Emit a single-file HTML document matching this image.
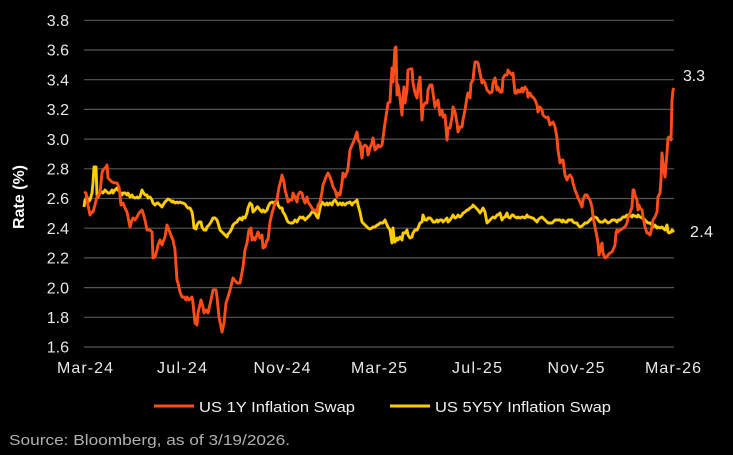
<!DOCTYPE html>
<html><head><meta charset="utf-8"><style>
html,body{margin:0;padding:0;background:#000;}
svg{display:block;}
text{font-family:"Liberation Sans",Arial,sans-serif;}
</style></head><body>
<svg width="733" height="455" viewBox="0 0 733 455" xmlns="http://www.w3.org/2000/svg">
<rect width="733" height="455" fill="#000"/>
<g stroke="#555" stroke-width="1.2">
<line x1="84" x2="674" y1="20.3" y2="20.3"/>
<line x1="84" x2="674" y1="50" y2="50"/>
<line x1="84" x2="674" y1="79.7" y2="79.7"/>
<line x1="84" x2="674" y1="109.4" y2="109.4"/>
<line x1="84" x2="674" y1="139.1" y2="139.1"/>
<line x1="84" x2="674" y1="168.8" y2="168.8"/>
<line x1="84" x2="674" y1="198.5" y2="198.5"/>
<line x1="84" x2="674" y1="228.2" y2="228.2"/>
<line x1="84" x2="674" y1="257.9" y2="257.9"/>
<line x1="84" x2="674" y1="287.6" y2="287.6"/>
<line x1="84" x2="674" y1="317.3" y2="317.3"/>
<line x1="84" x2="674" y1="347" y2="347"/>
</g>
<g fill="#e8e8e8" font-size="16" text-anchor="end">
<text x="69" y="26">3.8</text>
<text x="69" y="55.7">3.6</text>
<text x="69" y="85.4">3.4</text>
<text x="69" y="115.1">3.2</text>
<text x="69" y="144.8">3.0</text>
<text x="69" y="174.5">2.8</text>
<text x="69" y="204.2">2.6</text>
<text x="69" y="233.9">2.4</text>
<text x="69" y="263.6">2.2</text>
<text x="69" y="293.3">2.0</text>
<text x="69" y="323">1.8</text>
<text x="69" y="352.7">1.6</text>
</g>
<text transform="translate(24,197) rotate(-90)" fill="#fff" font-size="16" font-weight="bold" text-anchor="middle">Rate (%)</text>
<g fill="#e8e8e8" font-size="16" text-anchor="middle">
<text x="85" y="373" textLength="56">Mar-24</text>
<text x="182" y="373" textLength="50">Jul-24</text>
<text x="282" y="373" textLength="57">Nov-24</text>
<text x="379" y="373" textLength="56">Mar-25</text>
<text x="477" y="373" textLength="50">Jul-25</text>
<text x="576" y="373" textLength="57">Nov-25</text>
<text x="673" y="373" textLength="56">Mar-26</text>
</g>
<polyline fill="none" stroke="#FFCC00" stroke-width="2.9" stroke-linejoin="round" points="84,207 85,200 87,197 88,202 90,200 92,193 93,183 94,167 96,167 97,195 98,197 100,193 102,192 103,193 105,190 107,192 108,193 110,193 112,190 113,193 115,190 117,188 118,190 120,192 122,195 123,193 125,193 127,195 128,193 130,197 132,195 133,197 135,198 137,197 138,198 140,197 142,190 143,192 145,195 147,195 148,198 150,197 152,200 153,203 155,205 157,203 158,203 160,205 162,207 163,205 165,202 167,200 168,199 170,200 172,202 173,201 175,203 177,202 178,203 180,202 182,203 183,203 185,204 187,207 188,208 190,208 192,212 193,218 194,228 196,229 197,225 199,222 201,222 202,227 204,230 206,230 207,227 209,225 211,222 213,218 215,218 217,220 218,223 220,230 222,232 223,233 225,235 227,237 228,234 230,232 232,228 233,225 235,223 237,222 238,220 240,218 242,220 243,217 245,218 247,213 248,208 250,203 252,205 253,212 255,210 257,207 258,207 260,210 262,212 263,210 265,212 267,210 268,207 270,203 272,202 273,203 275,202 277,200 278,205 280,208 282,208 283,212 285,215 287,220 288,222 290,223 292,223 293,223 295,220 297,222 298,220 300,217 302,218 303,217 305,220 307,218 308,217 310,215 312,212 313,212 315,213 317,217 318,218 320,208 322,202 323,203 325,205 327,203 328,205 330,203 332,205 333,202 335,200 337,203 338,205 340,203 342,205 343,203 345,205 347,203 348,203 350,202 352,205 353,203 355,202 357,200 358,205 360,212 362,222 363,223 365,225 367,227 368,228 370,229 372,228 373,227 375,227 377,225 378,225 380,223 382,223 383,223 385,220 387,225 388,227 390,230 392,243 393,228 394,238 395,242 397,238 398,240 400,237 402,240 403,233 405,233 407,230 408,235 410,238 412,237 413,233 415,230 417,230 418,228 420,223 422,222 423,215 425,220 427,220 428,218 430,218 432,220 433,222 435,222 437,220 438,222 440,220 442,220 443,222 445,220 447,218 448,222 450,220 452,217 453,215 455,218 457,217 458,215 460,217 462,215 463,213 465,212 467,210 468,210 470,208 472,207 473,205 475,207 477,209 478,210 480,213 482,210 483,208 485,212 487,223 488,222 490,220 492,218 493,217 495,218 497,215 498,215 500,213 502,220 503,218 505,217 507,213 508,217 510,218 512,215 513,215 515,217 517,218 518,217 520,218 522,217 523,217 525,218 527,215 528,217 530,217 532,218 533,218 535,220 537,222 538,220 540,218 542,217 543,218 545,220 547,222 548,223 550,223 552,223 553,222 555,220 557,220 558,220 560,220 562,222 563,220 565,222 567,222 568,220 570,220 572,220 573,222 575,223 577,223 578,225 580,227 582,226 583,225 585,223 587,223 588,222 590,220 592,218 593,217 595,217 597,218 598,220 600,222 602,222 603,222 605,220 607,222 608,223 610,222 612,220 613,220 615,220 617,222 618,220 620,220 622,218 623,217 625,217 627,215 628,217 630,215 632,217 633,215 635,216 637,217 638,215 640,217 642,218 643,218 645,220 647,222 648,223 650,223 652,225 653,227 655,225 657,228 658,227 660,228 662,227 663,228 665,230 667,225 668,232 669,233 671,232 672,230 674,232"/>
<polyline fill="none" stroke="#FF4D1A" stroke-width="2.9" stroke-linejoin="round" points="84,192 86,193 87,200 90,215 92,212 93,212 97,197 100,193 102,173 103,170 106,167 107,165 108,178 112,182 115,183 117,183 119,187 121,205 123,203 125,208 127,212 128,217 130,227 132,220 133,218 135,220 137,217 139,213 142,210 143,213 145,220 147,230 150,230 152,232 153,258 155,257 157,250 158,245 160,240 162,245 163,242 165,237 167,225 169,230 172,238 173,240 175,250 177,280 178,283 180,292 182,297 184,297 186,300 187,297 189,300 192,297 193,303 195,323 197,325 198,313 201,300 203,307 204,313 206,310 208,313 211,300 213,290 216,290 217,297 219,317 222,332 224,323 226,303 228,297 230,290 233,278 237,283 240,283 243,267 245,250 247,243 249,230 251,228 252,240 253,237 255,240 257,235 258,232 260,238 262,235 263,248 265,247 267,240 268,240 270,222 272,213 273,210 275,203 277,200 279,187 281,180 282,175 284,182 285,190 287,197 288,202 290,200 292,200 293,193 295,197 297,202 298,195 300,192 302,193 303,198 305,203 307,197 308,202 310,205 312,208 313,210 315,210 317,212 318,205 320,202 322,192 323,185 326,177 328,173 330,177 332,183 333,187 335,190 337,197 338,193 340,195 342,183 343,173 345,177 347,172 348,168 350,150 352,145 353,143 355,138 357,132 358,140 360,143 362,158 363,147 365,145 367,147 368,155 370,148 372,143 373,138 375,150 377,148 378,145 380,147 382,145 383,138 385,123 387,110 388,103 390,102 391,83 392,68 393,82 395,48 396,47 397,95 398,85 400,98 402,115 403,98 404,87 405,103 407,90 408,70 410,69 412,69 413,83 415,93 417,98 418,88 420,77 422,120 423,107 425,103 427,103 428,90 430,85 432,85 433,93 435,107 437,102 438,100 440,115 442,110 443,117 445,115 447,140 448,128 450,128 452,117 453,107 455,112 457,123 458,132 460,127 462,127 463,120 465,110 467,97 468,93 470,98 471,83 473,80 474,70 475,62 477,62 478,63 480,73 482,83 483,80 485,83 487,90 490,93 492,92 493,83 495,78 497,90 498,87 500,92 502,92 503,78 505,75 507,75 508,70 510,73 512,75 513,73 515,93 517,93 518,90 520,92 522,88 523,92 525,87 527,90 528,97 530,93 532,97 533,97 535,100 537,105 538,112 540,107 542,110 543,115 545,117 547,118 548,117 550,125 552,123 553,122 555,127 557,138 558,150 560,163 562,160 563,160 565,175 567,180 568,177 570,175 572,178 573,183 575,190 577,195 578,198 580,202 582,207 583,200 585,195 587,195 588,197 590,200 592,207 593,217 595,227 597,237 598,243 599,255 601,247 602,243 603,253 605,258 607,257 608,255 610,253 612,252 613,250 615,245 616,233 617,230 618,232 620,230 622,229 623,228 625,227 627,223 628,218 630,213 632,207 633,190 634,190 635,195 637,200 638,210 639,205 640,208 642,210 643,217 645,227 647,233 648,233 650,235 652,227 653,220 655,217 657,212 658,197 660,193 661,180 662,153 663,163 665,177 667,153 668,138 669,137 671,140 672,100 673,90 674,88"/>
<text x="683" y="81" fill="#f0f0f0" font-size="16" textLength="22">3.3</text>
<text x="690" y="237" fill="#f0f0f0" font-size="16" textLength="23">2.4</text>
<line x1="154" x2="194" y1="406" y2="406" stroke="#FF4D1A" stroke-width="3"/>
<text x="199" y="412" fill="#f0f0f0" font-size="15" textLength="156" lengthAdjust="spacingAndGlyphs">US 1Y Inflation Swap</text>
<line x1="390" x2="430" y1="406" y2="406" stroke="#FFCC00" stroke-width="3"/>
<text x="435" y="412" fill="#f0f0f0" font-size="15" textLength="176" lengthAdjust="spacingAndGlyphs">US 5Y5Y Inflation Swap</text>
<text x="9" y="445" fill="#b0b0b0" font-size="15" textLength="281" lengthAdjust="spacingAndGlyphs">Source: Bloomberg, as of 3/19/2026.</text>
</svg>
</body></html>
